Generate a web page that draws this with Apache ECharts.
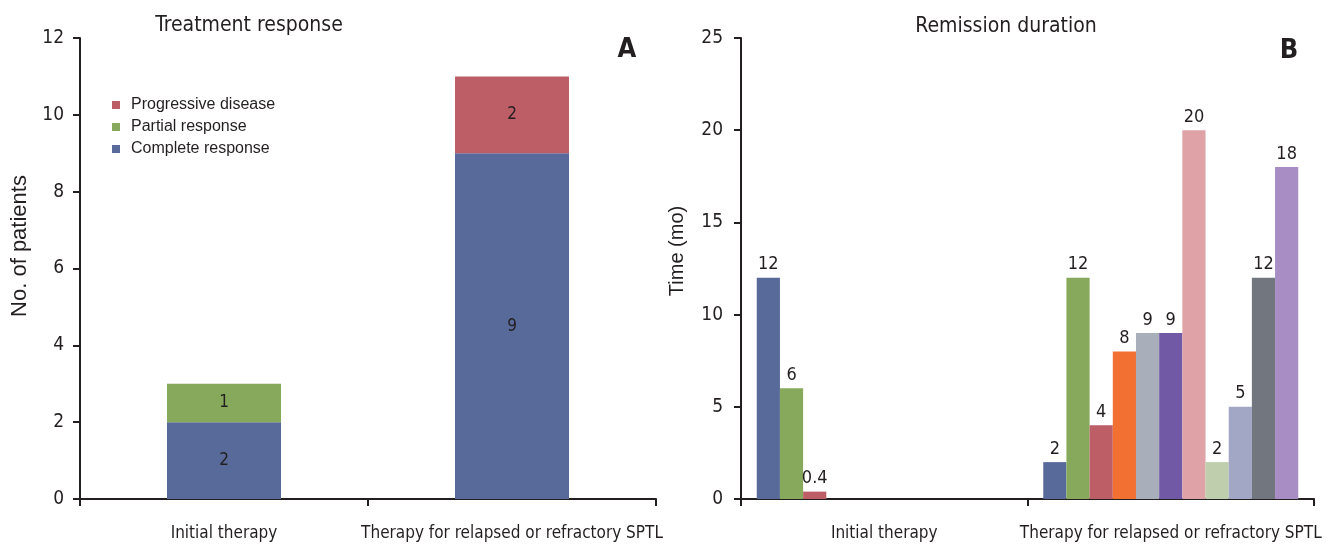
<!DOCTYPE html>
<html><head><meta charset="utf-8">
<script src="https://cdn.jsdelivr.net/npm/echarts@6/dist/echarts.min.js"></script>
<style>html,body{margin:0;padding:0;background:#fff}#c{width:1336px;height:550px}</style>
</head><body><div id="c"></div>
<script>
// ---- data ----
const categories = ['Initial therapy', 'Therapy for relapsed or refractory SPTL'];
const completeResponse = [2, 9];
const partialResponse = [1, null];
const progressiveDisease = [null, 2];
const remissionInitial = [12, 6, 0.4];
const remissionRelapsed = [2, 12, 4, 8, 9, 9, 20, 2, 5, 12, 18];
const legendNames = ['Progressive disease', 'Partial response', 'Complete response'];
const titleA = 'Treatment response';
const titleB = 'Remission duration';
const yNameA = 'No. of patients';
const yNameB = 'Time (mo)';

// ---- styles ----
const INK = '#231f20';
const NARROW = "'DejaVu Sans Condensed','Liberation Sans Narrow',sans-serif";
const REG = "'Liberation Sans',Arial,sans-serif";
const cBlue = '#586a9a', cGreen = '#86a95b', cRed = '#bd5e67';
const remissionColors = ['#586a9a','#86a95b','#bd5e67','#f17032','#a8aeba','#7159a5',
  '#dfa2a7','#bfceac','#a3a7c6','#72777f','#a78dc4'];

const axisLine = {show: true, lineStyle: {color: INK, width: 2}};
const axisTick = {show: true, inside: false, length: 7, lineStyle: {color: INK, width: 2}};

function xAxis(gi) {
  return {
    type: 'category', gridIndex: gi, data: categories, boundaryGap: true,
    axisLine, axisTick: Object.assign({}, axisTick, {alignWithLabel: false}),
    axisLabel: {interval: 0, margin: 26, color: INK, fontFamily: NARROW, fontSize: 17},
    splitLine: {show: false}
  };
}
function yAxis(gi, max, interval, margin) {
  return {
    type: 'value', gridIndex: gi, min: 0, max, interval,
    axisLine, axisTick,
    axisLabel: {margin, color: INK, fontFamily: NARROW, fontSize: 19},
    splitLine: {show: false}
  };
}

const innerLabel = {show: true, position: 'inside', color: INK, fontFamily: NARROW, fontSize: 17};

const series = [
  {name: 'Complete response', type: 'bar', stack: 'a', xAxisIndex: 0, yAxisIndex: 0,
   barWidth: 114, data: completeResponse, itemStyle: {color: cBlue}, label: innerLabel},
  {name: 'Partial response', type: 'bar', stack: 'a', xAxisIndex: 0, yAxisIndex: 0,
   barWidth: 114, data: partialResponse, itemStyle: {color: cGreen}, label: innerLabel},
  {name: 'Progressive disease', type: 'bar', stack: 'a', xAxisIndex: 0, yAxisIndex: 0,
   barWidth: 114, data: progressiveDisease, itemStyle: {color: cRed}, label: innerLabel}
];
remissionRelapsed.forEach((v, i) => {
  const init = i < remissionInitial.length ? remissionInitial[i] : null;
  series.push({
    name: 'Patient ' + (i + 1), type: 'bar', xAxisIndex: 1, yAxisIndex: 1,
    barGap: '0%', barCategoryGap: '11%',
    data: [init, v], itemStyle: {color: remissionColors[i]},
    label: {show: true, position: 'top', distance: 4, color: INK, fontFamily: NARROW, fontSize: 18}
  });
});

const option = {
  backgroundColor: '#fff',
  animation: false,
  grid: [
    {left: 80, top: 38, width: 576, height: 461, containLabel: false, outerBoundsMode: 'none'},
    {left: 741, top: 38, width: 573, height: 461, containLabel: false, outerBoundsMode: 'none'}
  ],
  xAxis: [xAxis(0), xAxis(1)],
  yAxis: [yAxis(0, 12, 2, 16), yAxis(1, 25, 5, 18)],
  legend: {
    data: legendNames, orient: 'vertical', left: 112, top: 97, padding: 0,
    itemWidth: 8, itemHeight: 8, itemGap: 6, icon: 'rect',
    selectedMode: false,
    textStyle: {color: INK, fontFamily: REG, fontSize: 16, padding: [0, 0, 0, 6]}
  },
  graphic: [
    {type: 'text', x: 249, y: 26, style: {text: titleA, fill: INK, font: '21px ' + NARROW, align: 'center', verticalAlign: 'middle'}},
    {type: 'text', x: 1006, y: 27, style: {text: titleB, fill: INK, font: '21px ' + NARROW, align: 'center', verticalAlign: 'middle'}},
    {type: 'text', x: 627, y: 50, style: {text: 'A', fill: INK, font: 'bold 27px ' + NARROW, align: 'center', verticalAlign: 'middle'}},
    {type: 'text', x: 1289, y: 51, style: {text: 'B', fill: INK, font: 'bold 27px ' + NARROW, align: 'center', verticalAlign: 'middle'}},
    {type: 'text', x: 20, y: 246, rotation: Math.PI / 2, style: {text: yNameA, fill: INK, font: '22px ' + REG, align: 'center', verticalAlign: 'middle'}},
    {type: 'text', x: 677, y: 251, rotation: Math.PI / 2, style: {text: yNameB, fill: INK, font: '20px ' + REG, align: 'center', verticalAlign: 'middle'}}
  ],
  series
};
const chart = echarts.init(document.getElementById('c'), null, {renderer: 'canvas'});
chart.setOption(option);
</script>
</body></html>
